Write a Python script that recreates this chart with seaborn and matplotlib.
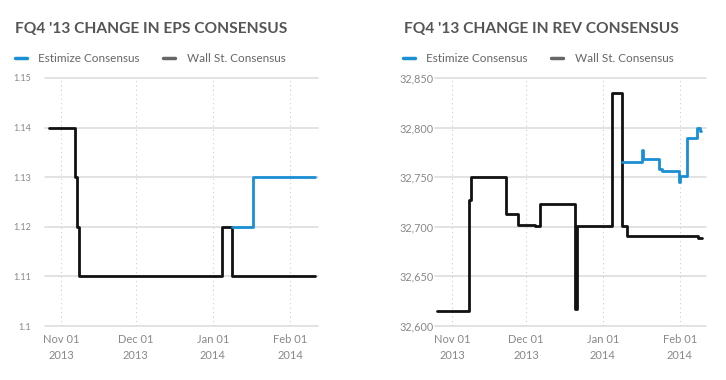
import pandas as pd
import numpy as np
import matplotlib
matplotlib.use("Agg")
import matplotlib.pyplot as plt
from matplotlib.lines import Line2D
import seaborn as sns

# ----------------------------
# 1. DATA
# ----------------------------
eps_wall_dates = ["2013-10-27 00:00", "2013-11-06 14:00", "2013-11-07 12:00", "2013-11-08 06:00",
                  "2014-01-04 14:00", "2014-01-08 12:00", "2014-02-11 00:00"]
eps_wall_vals = [1.14, 1.13, 1.12, 1.11, 1.12, 1.11, 1.11]

eps_est_dates = ["2014-01-08 12:00", "2014-01-17 00:00", "2014-02-11 00:00"]
eps_est_vals = [1.12, 1.13, 1.13]

rev_wall_dates = ["2013-10-26 00:00", "2013-11-07 22:00", "2013-11-08 16:00", "2013-11-22 20:00",
                  "2013-11-27 14:00", "2013-12-04 14:00", "2013-12-06 14:00", "2013-12-20 20:00",
                  "2013-12-21 14:00", "2014-01-04 18:00", "2014-01-08 16:00", "2014-01-10 16:00",
                  "2014-02-08 12:00", "2014-02-10 04:00"]
rev_wall_vals = [32615, 32727, 32750, 32713, 32702, 32701, 32723, 32617,
                 32701, 32835, 32701, 32691, 32689, 32689]

rev_est_dates = ["2014-01-08 20:00", "2014-01-16 18:00", "2014-01-17 00:00", "2014-01-23 14:00",
                 "2014-01-25 00:00", "2014-01-31 20:00", "2014-02-01 04:00", "2014-02-04 00:00",
                 "2014-02-08 04:00", "2014-02-09 08:00", "2014-02-09 16:00"]
rev_est_vals = [32765, 32777, 32768, 32758, 32756, 32745, 32751, 32789, 32800, 32797, 32797]

tick_dates = ["2013-11-01", "2013-12-01", "2014-01-01", "2014-02-01"]
tick_labels = ["Nov 01\n2013", "Dec 01\n2013", "Jan 01\n2014", "Feb 01\n2014"]

eps_ticks = [1.10, 1.11, 1.12, 1.13, 1.14, 1.15]
eps_tick_labels = ["1.1", "1.11", "1.12", "1.13", "1.14", "1.15"]
rev_ticks = [32600, 32650, 32700, 32750, 32800, 32850]
rev_tick_labels = ["32,600", "32,650", "32,700", "32,750", "32,800", "32,850"]

BLUE = "#1a8fd3"
BLACK = "#111111"
GRAY_TXT = "#666666"

# ----------------------------
# 2. FIGURE
# ----------------------------
sns.set_style("white")
plt.rcParams["font.family"] = ["Lato", "DejaVu Sans"]

fig = plt.figure(figsize=(7.26, 3.80), dpi=100)
ax1 = fig.add_axes([0.062, 0.142, 0.376, 0.653])
ax2 = fig.add_axes([0.599, 0.142, 0.373, 0.653])


def to_dt(d):
    return pd.to_datetime(d, format="%Y-%m-%d %H:%M")


def draw(ax, wall_d, wall_v, est_d, est_v):
    sns.lineplot(x=to_dt(wall_d), y=wall_v, ax=ax, color=BLACK, lw=2,
                 drawstyle="steps-post", estimator=None, sort=False)
    sns.lineplot(x=to_dt(est_d), y=est_v, ax=ax, color=BLUE, lw=2,
                 drawstyle="steps-post", estimator=None, sort=False)


draw(ax1, eps_wall_dates, eps_wall_vals, eps_est_dates, eps_est_vals)
draw(ax2, rev_wall_dates, rev_wall_vals, rev_est_dates, rev_est_vals)

ax1.set_xlim(pd.Timestamp("2013-10-25 12:00"), pd.Timestamp("2014-02-12 06:00"))
ax2.set_xlim(pd.Timestamp("2013-10-25 03:00"), pd.Timestamp("2014-02-11 12:00"))
ax1.set_ylim(1.10, 1.15)
ax2.set_ylim(32600, 32850)

for ax, yt, yl, fs, pad in [(ax1, eps_ticks, eps_tick_labels, 6.5, 10),
                            (ax2, rev_ticks, rev_tick_labels, 7.8, 1)]:
    ax.set_yticks(yt)
    ax.set_yticklabels(yl, fontsize=fs, color="#888888")
    ax.set_xticks(pd.to_datetime(tick_dates))
    ax.set_xticklabels(tick_labels, fontsize=8, color="#888888", linespacing=1.5)
    ax.tick_params(axis="both", length=0)
    ax.tick_params(axis="y", pad=pad)
    ax.tick_params(axis="x", pad=6)
    ax.set_xlabel("")
    ax.set_ylabel("")
    for s in ax.spines.values():
        s.set_visible(False)
    for y in yt:
        ax.axhline(y, color="#dddddd", lw=1.2, zorder=0, clip_on=False)
    for d in pd.to_datetime(tick_dates):
        ax.axvline(d, color="#cccccc", lw=0.8, ls=(0, (1, 3)), zorder=0)

# ----------------------------
# 3. TITLES & LEGENDS
# ----------------------------
fig.text(15 / 726, 1 - 29 / 380, "FQ4 '13 CHANGE IN EPS CONSENSUS", fontsize=11.2,
         fontweight="bold", color="#555555", va="center", ha="left")
fig.text(404 / 726, 1 - 29 / 380, "FQ4 '13 CHANGE IN REV CONSENSUS", fontsize=11.2,
         fontweight="bold", color="#555555", va="center", ha="left")

handles = [Line2D([], [], color=BLUE, lw=2.5), Line2D([], [], color="#666666", lw=2.5)]
names = ["Estimize Consensus", "Wall St. Consensus"]
for x0 in [10 / 726, 398 / 726]:
    fig.legend(handles, names, loc="center left", bbox_to_anchor=(x0, 1 - 59 / 380),
               ncol=2, frameon=False, fontsize=8.5, handlelength=1.0, handletextpad=1.0,
               columnspacing=2.0, labelcolor=GRAY_TXT, borderaxespad=0)

fig.savefig("out.png", dpi=100)
